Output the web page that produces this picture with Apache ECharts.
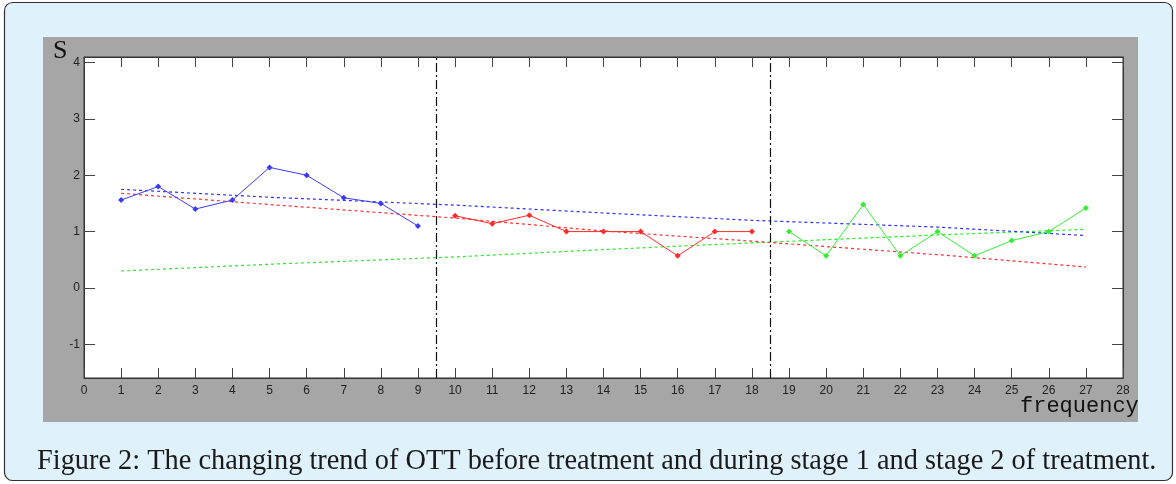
<!DOCTYPE html>
<html>
<head>
<meta charset="utf-8">
<title>OTT trend</title>
<script src="https://cdn.jsdelivr.net/npm/echarts@6/dist/echarts.min.js"></script>
<style>
  html, body { margin: 0; padding: 0; background: #fff; }
  #chart { width: 1176px; height: 484px; }
</style>
</head>
<body>
<div id="chart"></div>
<script>
// 数据
var beforeX = [1, 2, 3, 4, 5, 6, 7, 8, 9];
var beforeS = [1.56, 1.8, 1.4, 1.56, 2.14, 2.0, 1.6, 1.5, 1.1];
var stage1X = [10, 11, 12, 13, 14, 15, 16, 17, 18];
var stage1S = [1.28, 1.14, 1.29, 1.0, 1.0, 1.0, 0.57, 1.0, 1.0];
var stage2X = [19, 20, 21, 22, 23, 24, 25, 26, 27];
var stage2S = [1.0, 0.57, 1.48, 0.57, 1.0, 0.57, 0.84, 1.0, 1.42];

// 趋势线 (dotted)
var trendX = [1, 5, 10, 14, 18, 23, 27];
var trendBlue = [1.75, 1.61, 1.47, 1.33, 1.2, 1.08, 0.93];
var trendRed = [1.68, 1.48, 1.24, 1.01, 0.83, 0.59, 0.37];
var trendGreen = [0.3, 0.42, 0.55, 0.68, 0.8, 0.94, 1.04];

var stageBreaks = [9.5, 18.5];
var yTicks = [-1, 0, 1, 2, 3, 4];

function pairs(xs, ys) {
    return xs.map(function (x, i) { return [x, ys[i]]; });
}

var tickColor = '#444';
var labelFont = 'Liberation Sans';

var chart = echarts.init(document.getElementById('chart'));

function dataLine(xs, ys, color) {
    return {
        type: 'line',
        data: pairs(xs, ys),
        symbol: 'diamond',
        symbolSize: 6,
        lineStyle: { color: color, width: 1 },
        itemStyle: { color: color },
        silent: true,
        z: 4
    };
}

function trendLine(ys, color) {
    return {
        type: 'line',
        data: pairs(trendX, ys),
        symbol: 'none',
        lineStyle: { color: color, width: 1.2, type: [3, 3] },
        silent: true,
        z: 3
    };
}

// x 轴贴在隐藏 y 轴的 0 上 (底边 / 顶边)
function xAxisOf(pos, zeroAxis, withLabel) {
    return {
        type: 'value',
        position: pos,
        min: 0,
        max: 28,
        interval: 1,
        splitLine: { show: false },
        axisLine: { show: true, onZero: true, onZeroAxisIndex: zeroAxis, lineStyle: { color: '#333', width: 1 } },
        axisTick: { show: true, inside: true, length: 10, lineStyle: { color: tickColor } },
        axisLabel: withLabel
            ? { show: true, color: '#222', fontSize: 12, fontFamily: labelFont, margin: 7 }
            : { show: false }
    };
}

function yAxisOf(pos, withLabel) {
    return {
        type: 'value',
        position: pos,
        min: -1.6,
        max: 4.1,
        splitLine: { show: false },
        axisLine: { show: true, onZero: false, lineStyle: { color: '#333' } },
        axisTick: { show: true, inside: true, length: 11, customValues: yTicks.slice(), lineStyle: { color: tickColor } },
        axisLabel: withLabel
            ? { show: true, color: '#222', fontSize: 12, fontFamily: labelFont, margin: 4, customValues: yTicks.slice() }
            : { show: false }
    };
}

function helperY(lo, hi) {
    return { type: 'value', show: false, min: lo, max: hi, splitLine: { show: false } };
}

var option = {
    animation: false,
    graphic: [
        {
            type: 'rect',
            shape: { x: 4.5, y: 2.5, width: 1168, height: 478, r: 8 },
            style: { fill: '#dff1fb', stroke: '#333', lineWidth: 1.2 },
            z: -10
        },
        {
            type: 'rect',
            shape: { x: 43, y: 37, width: 1095, height: 385 },
            style: { fill: '#a6a6a6' },
            z: -9
        },
        {
            type: 'rect',
            shape: { x: 84, y: 57, width: 1039, height: 321 },
            style: { fill: '#fff', stroke: '#333', lineWidth: 1 },
            z: -8
        },
        {
            type: 'text',
            x: 53, y: 38,
            style: { text: 'S', fontFamily: 'Liberation Serif', fontSize: 26, fill: '#111' },
            z: 10
        },
        {
            type: 'text',
            x: 1020, y: 395,
            style: { text: 'frequency', fontFamily: 'Liberation Mono', fontSize: 22, fill: '#111' },
            z: 10
        },
        {
            type: 'text',
            x: 37, y: 446,
            scaleX: 0.945,
            style: {
                text: 'Figure 2: The changing trend of OTT before treatment and during stage 1 and stage 2 of treatment.',
                fontFamily: 'Liberation Serif',
                fontSize: 30,
                fill: '#1a1a1a'
            },
            z: 10
        }
    ],
    grid: { left: 84, top: 57, width: 1039, height: 321, show: false },
    xAxis: [xAxisOf('bottom', 2, true), xAxisOf('top', 3, false)],
    yAxis: [yAxisOf('left', true), yAxisOf('right', false), helperY(0, 1), helperY(-1, 0)],
    series: [
        trendLine(trendGreen, '#22ee22'),
        trendLine(trendRed, '#ff3030'),
        trendLine(trendBlue, '#3030ff'),
        dataLine(beforeX, beforeS, '#3a3aff'),
        dataLine(stage1X, stage1S, '#ff2a2a'),
        Object.assign(dataLine(stage2X, stage2S, '#33ee33'), {
            markLine: {
                silent: true,
                symbol: 'none',
                label: { show: false },
                lineStyle: { color: '#111', width: 1.2, type: [9, 3, 2, 3] },
                data: stageBreaks.map(function (v) { return { xAxis: v }; })
            }
        })
    ]
};

chart.setOption(option);
</script>
</body>
</html>
